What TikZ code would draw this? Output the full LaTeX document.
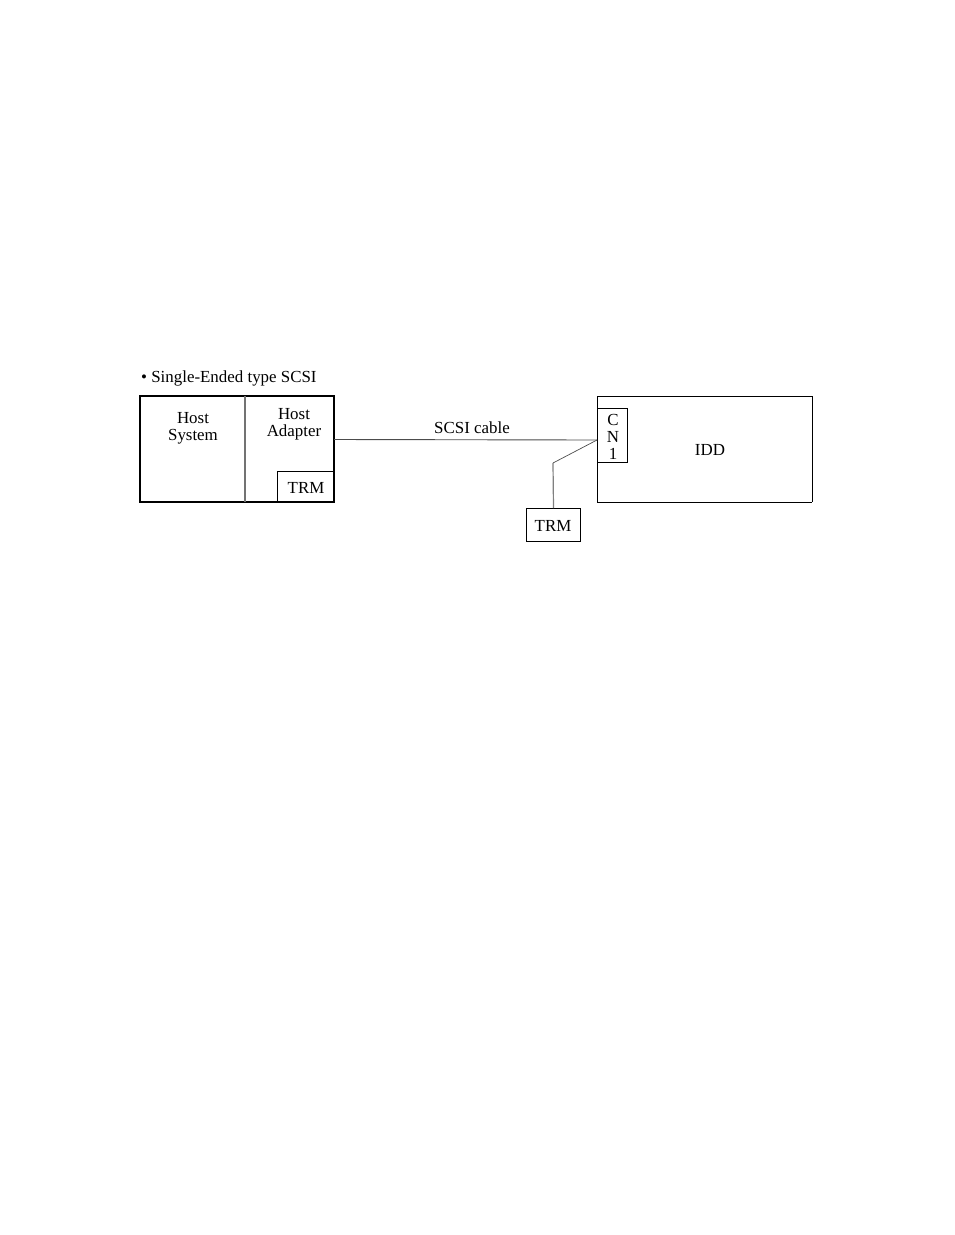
\documentclass[tikz,border=0pt]{standalone}
\usepackage{fontspec}
\setmainfont{Liberation Serif}
\begin{document}
\begin{tikzpicture}[x=1pt,y=-1pt,
  lbl/.style={font=\fontsize{16.9}{17}\selectfont, inner sep=0pt, align=center},
  thickbox/.style={draw=black, line width=1.6pt},
  thinbox/.style={draw=black, line width=1pt},
  wire/.style={draw=black!70, line width=0.9pt}]
\useasboundingbox (0,0) rectangle (954,1235);
\node[lbl, anchor=west] (title) at (141,378) {• Single-Ended type SCSI};
% host box
\draw[thickbox] (140,396) rectangle (334,502);
\coordinate (hostTR) at (334,439.5);
\draw[wire, draw=black!55, line width=1.2pt] (245,396) -- (245,502);
\draw[thinbox] (277,471) rectangle (334,502);
\node[lbl] (hs) at (193,428) {Host\\System};
\node[lbl] (ha) at (294,424.5) {Host\\Adapter};
\node[lbl] (trm1) at (306,488) {TRM};
% IDD
\draw[thinbox] (597,396) -- (812,396) (597,396) -- (597,502) -- (812,502) (812,396) -- (812,502);
\node[thinbox, minimum width=30pt, minimum height=54pt, inner sep=0pt, anchor=north west] (cn) at (597,408) {};
\node[lbl] (cnl) at (613,437) {C\\N\\1};
\coordinate (junc) at (597,440);
\node[lbl] (idd) at (710,450) {IDD};
% cable
\draw[wire] (hostTR) -- (junc);
\node[lbl] (cable) at (472,428) {SCSI cable};
% trm2
\node[thinbox, minimum width=54pt, minimum height=33pt, inner sep=0pt, anchor=north west] (trm2) at (526,508) {};
\node[lbl] (trm2l) at (553,525.5) {TRM};
\coordinate (bend) at (553,463);
\draw[wire, line width=0.7pt] (junc) -- (bend);
\draw[wire, draw=black!50, line width=1.2pt] (bend) -- (trm2.north);
\end{tikzpicture}
\end{document}
